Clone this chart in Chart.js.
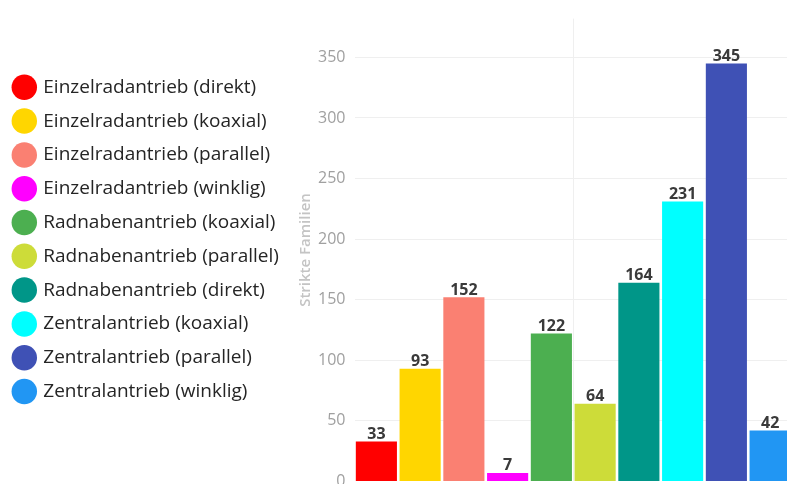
<!DOCTYPE html>
<html>
  <head>
    <title>Strikte Familien</title>
    <script src="https://cdn.jsdelivr.net/npm/chart.js"></script>
    <style>
      body {
        margin: 0;
        overflow: hidden;
        background: #ffffff;
      }
      .chart-box {
        width: 792px;
        height: 500px;
      }
    </style>
  </head>

  <body>
    <div class="chart-box">
      <canvas id="barChart"></canvas>
    </div>
    <script>
      var antriebe = [
        "Einzelradantrieb (direkt)",
        "Einzelradantrieb (koaxial)",
        "Einzelradantrieb (parallel)",
        "Einzelradantrieb (winklig)",
        "Radnabenantrieb (koaxial)",
        "Radnabenantrieb (parallel)",
        "Radnabenantrieb (direkt)",
        "Zentralantrieb (koaxial)",
        "Zentralantrieb (parallel)",
        "Zentralantrieb (winklig)",
      ];
      var familien = [33, 93, 152, 7, 122, 64, 164, 231, 345, 42];
      var farben = [
        "#ff0000",
        "#ffd600",
        "#fa8072",
        "#ff00ff",
        "#4caf50",
        "#cddc39",
        "#009688",
        "#00ffff",
        "#3f51b5",
        "#2196f3",
      ];
      var yTicks = [0, 50, 100, 150, 200, 250, 300, 350];

      // left edge of the plot area, the y axis fills the space up to it
      var plotLeft = 354.5;

      // writes the value above each bar
      var barValues = {
        id: "barValues",
        afterDatasetsDraw: function (chart) {
          var ctx = chart.ctx;
          var meta = chart.getDatasetMeta(0);
          ctx.save();
          ctx.font = "bold 16px 'Open Sans'";
          ctx.fillStyle = "#3a3a3a";
          ctx.textAlign = "center";
          ctx.textBaseline = "alphabetic";
          meta.data.forEach(function (bar, i) {
            ctx.fillText(familien[i], bar.x, bar.y - 2.5);
          });
          ctx.restore();
        },
      };

      var ctx = document.getElementById("barChart").getContext("2d");
      var barChart = new Chart(ctx, {
        type: "bar",
        data: {
          labels: antriebe,
          datasets: [
            {
              label: "Strikte Familien",
              data: familien,
              backgroundColor: farben,
              categoryPercentage: 1,
              barPercentage: 0.94,
            },
          ],
        },
        options: {
          responsive: true,
          maintainAspectRatio: false,
          animation: false,
          layout: {
            padding: { left: 0, top: 0, right: 0, bottom: 2.5 },
          },
          plugins: {
            tooltip: { enabled: false },
            legend: {
              position: "left",
              align: "start",
              fullSize: false,
              maxWidth: 320,
              // empty title, only used as top spacing for the items
              title: {
                display: true,
                text: "",
                font: { size: 12, lineHeight: 1 },
                padding: { top: 16.2, bottom: 16.2 },
              },
              labels: {
                usePointStyle: true,
                pointStyle: "circle",
                boxWidth: 19,
                boxHeight: 18,
                padding: 14.8,
                color: "#252525",
                font: { family: "'Open Sans'", size: 19 },
                generateLabels: function () {
                  return antriebe.map(function (name, i) {
                    return {
                      text: name,
                      fillStyle: farben[i],
                      strokeStyle: farben[i],
                      fontColor: "#252525",
                      lineWidth: 0,
                      pointStyle: "circle",
                      hidden: false,
                      index: i,
                    };
                  });
                },
              },
            },
          },
          scales: {
            x: {
              ticks: { display: false },
              border: { display: false },
              grid: {
                drawTicks: false,
                // only the boundary between the 5th and 6th bar is drawn
                color: function (c) {
                  return c.index === 5 ? "#efefef" : "rgba(0,0,0,0)";
                },
              },
            },
            y: {
              min: 0,
              max: 382,
              border: { display: false },
              grid: {
                drawTicks: false,
                color: function (c) {
                  return yTicks.indexOf(c.tick.value) >= 0 && c.tick.value > 0
                    ? "#efefef"
                    : "rgba(0,0,0,0)";
                },
              },
              ticks: {
                stepSize: 50,
                padding: 9,
                color: "#a0a0a0",
                font: { family: "'Open Sans'", size: 16 },
                callback: function (v) {
                  return yTicks.indexOf(v) >= 0 ? v : "";
                },
              },
              title: {
                display: true,
                text: "Strikte Familien",
                color: "#c4c4c4",
                font: { family: "'Open Sans'", size: 15, weight: "600" },
                padding: { top: 8, bottom: 0 },
              },
              afterFit: function (scale) {
                var lw = scale.chart.legend ? scale.chart.legend.width || 0 : 0;
                scale.width = plotLeft - lw;
              },
            },
          },
        },
        plugins: [barValues],
      });
    </script>
  </body>
</html>
